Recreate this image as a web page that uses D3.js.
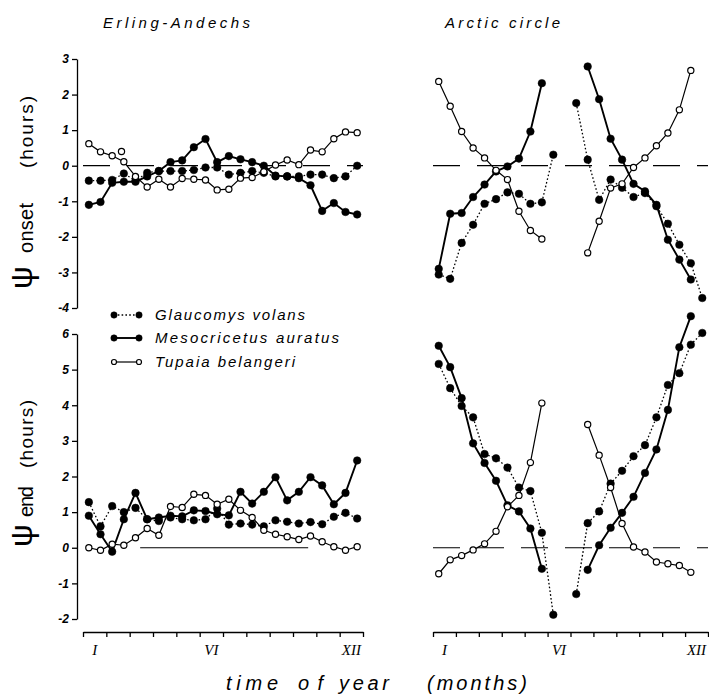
<!DOCTYPE html>
<html><head><meta charset="utf-8">
<script src="https://cdn.jsdelivr.net/npm/d3@7"></script>
<style>body{margin:0;background:#fff}svg{display:block}</style>
</head><body>
<svg id="c" width="709" height="697"></svg>
<script>
// ---- data (semi-monthly samples, 24 per year; null = no value) ----
const monthLabels = ["I", "VI", "XII"];
const monthLabelMonths = [0, 5, 11];
const onsetTicks = [3, 2, 1, 0, -1, -2, -3, -4];
const endTicks = [6, 5, 4, 3, 2, 1, 0, -1, -2];
const seriesNames = ["Glaucomys volans", "Mesocricetus auratus", "Tupaia belangeri"];

const erlingOnsetGlaucomys = [-0.42,-0.42,-0.4,-0.22,-0.42,-0.2,-0.15,-0.15,-0.15,-0.12,-0.05,-0.05,-0.25,-0.2,-0.15,-0.2,-0.3,-0.3,-0.3,-0.25,-0.25,-0.35,-0.3,0.0];
const erlingOnsetMesocricetus = [-1.1,-1.02,-0.48,-0.45,-0.45,-0.3,-0.15,0.1,0.15,0.52,0.75,0.1,0.27,0.18,0.1,0.0,-0.28,-0.3,-0.35,-0.55,-1.27,-1.05,-1.3,-1.37];
const erlingOnsetTupaia = [0.62,0.39,0.28,0.11,-0.3,-0.6,-0.38,-0.6,-0.36,-0.38,-0.4,-0.68,-0.66,-0.35,-0.33,-0.17,0.02,0.16,0.03,0.44,0.39,0.76,0.95,0.93];
const erlingOnsetTupaiaExtra = [{i: 2.8, v: 0.4}];

const arcticOnsetGlaucomys = [-3.06,-3.18,-2.17,-1.66,-1.07,-0.94,-0.75,-0.79,-1.07,-1.03,0.31,null,1.76,0.17,-0.96,-0.39,-0.62,-0.88,-0.77,-1.14,-1.63,-2.22,-2.74,-3.72];
const arcticOnsetMesocricetus = [-2.9,-1.35,-1.33,-0.88,-0.53,-0.16,-0.02,0.2,0.96,2.32,null,null,null,2.79,1.87,0.76,0.17,-0.51,-0.72,-1.1,-2.08,-2.64,-3.2,null];
const arcticOnsetTupaia = [2.37,1.67,0.96,0.5,0.22,-0.13,-0.39,-1.28,-1.82,-2.06,null,null,null,-2.45,-1.56,-0.63,-0.51,-0.05,0.22,0.56,0.92,1.57,2.68,null];

const erlingEndGlaucomys = [1.28,0.6,1.17,1.0,1.12,0.8,0.75,0.85,0.8,0.77,0.8,1.1,0.65,0.68,0.65,0.6,0.77,0.73,0.68,0.72,0.66,0.87,0.98,0.82];
const erlingEndMesocricetus = [0.9,0.38,-0.11,0.8,1.54,0.8,0.85,0.9,0.88,1.05,1.03,0.94,0.91,1.57,1.24,1.57,1.98,1.33,1.57,1.98,1.75,1.22,1.54,2.45];
const erlingEndTupaia = [0,-0.07,0.1,0.07,0.28,0.54,0.35,1.16,1.13,1.5,1.47,1.22,1.36,1.05,0.85,0.49,0.38,0.31,0.23,0.33,0.17,0.03,-0.07,0.03];

const arcticEndGlaucomys = [5.16,4.48,3.98,3.66,2.63,2.51,2.25,1.69,1.59,0.42,-1.88,null,-1.3,0.69,1.02,1.8,2.16,2.57,2.88,3.66,4.57,4.9,5.7,6.03];
const arcticEndMesocricetus = [5.67,5.07,4.2,2.93,2.38,1.88,1.19,1.02,0.54,-0.59,null,null,null,-0.62,0.07,0.56,0.98,1.43,2.1,2.76,3.87,5.63,6.5,null];
const arcticEndTupaia = [-0.73,-0.34,-0.22,-0.06,0.11,0.46,1.15,1.47,2.39,4.06,null,null,null,3.46,2.6,1.69,0.68,0.02,-0.12,-0.4,-0.45,-0.5,-0.69,null];

// ---- layout ----
const svg = d3.select("#c");
const xLeft = d3.scaleLinear().domain([0, 12]).range([83, 363]);
const xRight = d3.scaleLinear().domain([0, 12]).range([433, 708]);
const yTop = d3.scaleLinear().domain([-4, 3]).range([308, 59]);
const yBot = d3.scaleLinear().domain([-2, 6]).range([619, 334]);
const monthOf = i => i * 0.5 + 0.25;
const FONT = "'Liberation Sans', Arial, sans-serif";

const styles = [
  {kind: "filled", width: 1.3, dash: "1.6,2.2", r: 3.8},
  {kind: "filled", width: 1.9, dash: null, r: 3.8},
  {kind: "open", width: 1.2, dash: null, r: 3.1}
];

const panels = [
  {x: xLeft, y: yTop, data: [erlingOnsetGlaucomys, erlingOnsetMesocricetus, erlingOnsetTupaia], zero: "dash", extra: erlingOnsetTupaiaExtra},
  {x: xRight, y: yTop, data: [arcticOnsetGlaucomys, arcticOnsetMesocricetus, arcticOnsetTupaia], zero: "dash"},
  {x: xLeft, y: yBot, data: [erlingEndGlaucomys, erlingEndMesocricetus, erlingEndTupaia], zero: "part"},
  {x: xRight, y: yBot, data: [arcticEndGlaucomys, arcticEndMesocricetus, arcticEndTupaia], zero: "dash"}
];

panels.forEach(p => {
  const g = svg.append("g");
  if (p.zero === "dash") {
    g.append("line").attr("x1", p.x(0)).attr("x2", p.x(12)).attr("y1", p.y(0)).attr("y2", p.y(0))
      .attr("stroke", "#000").attr("stroke-width", 1.2).attr("stroke-dasharray", "27,17");
  } else {
    g.append("line").attr("x1", p.x(2.45)).attr("x2", p.x(9.65)).attr("y1", p.y(0)).attr("y2", p.y(0))
      .attr("stroke", "#000").attr("stroke-width", 1.2);
  }
  const line = d3.line().defined(d => d.v != null).x(d => p.x(monthOf(d.i))).y(d => p.y(d.v));
  const rows = p.data.map(arr => arr.map((v, i) => ({i, v})));
  rows.forEach((row, s) => {
    const st = styles[s];
    g.append("path").attr("d", line(row)).attr("fill", "none").attr("stroke", "#000")
      .attr("stroke-width", st.width).attr("stroke-dasharray", st.dash);
  });
  rows.forEach((row, s) => {
    const st = styles[s];
    g.selectAll(null).data(row.filter(d => d.v != null)).enter().append("circle")
      .attr("cx", d => p.x(monthOf(d.i))).attr("cy", d => p.y(d.v)).attr("r", st.r)
      .attr("fill", st.kind === "filled" ? "#000" : "#fff")
      .attr("stroke", "#000").attr("stroke-width", st.kind === "filled" ? 0.5 : 1.2);
  });
  if (p.extra) {
    g.selectAll(null).data(p.extra).enter().append("circle")
      .attr("cx", d => p.x(monthOf(d.i))).attr("cy", d => p.y(d.v)).attr("r", styles[2].r)
      .attr("fill", "#fff").attr("stroke", "#000").attr("stroke-width", 1.2);
  }
});

// ---- axes ----
function styleAxis(g) {
  g.selectAll("path,line").attr("stroke", "#000").attr("stroke-width", 1.3);
  g.selectAll("text").attr("font-family", FONT).attr("font-style", "italic")
    .attr("font-size", 12).attr("font-weight", "bold").attr("fill", "#000");
}
svg.append("g").attr("transform", "translate(77,0)")
  .call(d3.axisLeft(yTop).tickValues(onsetTicks).tickSize(5).tickSizeOuter(0).tickPadding(3).tickFormat(d => String(d)))
  .call(styleAxis);
svg.append("g").attr("transform", "translate(77,0)")
  .call(d3.axisLeft(yBot).tickValues(endTicks).tickSize(5).tickSizeOuter(0).tickPadding(3).tickFormat(d => String(d)))
  .call(styleAxis);

[xLeft, xRight].forEach(x => {
  svg.append("g").attr("transform", "translate(0,632)")
    .call(d3.axisBottom(x).tickValues(d3.range(0, 13)).tickSize(5).tickSizeOuter(0).tickFormat(""))
    .call(styleAxis);
  svg.selectAll(null).data(monthLabels).enter().append("text")
    .attr("x", (d, k) => x(monthLabelMonths[k] + 0.5)).attr("y", 655)
    .attr("text-anchor", "middle").attr("font-family", "'Liberation Serif', serif")
    .attr("font-style", "italic").attr("font-size", 15).attr("fill", "#000").text(d => d);
});

// ---- titles and labels ----
function label(txt, x, y, size, len, opts = {}) {
  const t = svg.append("text").attr("x", x).attr("y", y).attr("font-family", FONT)
    .attr("font-size", size).attr("font-style", opts.upright ? "normal" : "italic").attr("fill", "#000").text(txt);
  if (len) t.attr("textLength", len).attr("lengthAdjust", "spacing");
  if (opts.rotate) t.attr("transform", `rotate(-90,${x},${y})`);
  return t;
}
label("Erling-Andechs", 103, 28, 15, 147);
label("Arctic circle", 445, 28, 15, 115);
label("time", 226, 690, 20, 52);
label("of", 298, 690, 20, 25);
label("year", 339, 690, 20, 50);
label("(months)", 427, 690, 20, 100);

// y-axis titles (rotated)
label("ψ", 32, 289, 32, null, {upright: true, rotate: true});
label("onset", 33, 253, 20, 50, {upright: true, rotate: true});
label("(hours)", 33, 168, 19, 72, {upright: true, rotate: true});
label("ψ", 32, 547, 32, null, {upright: true, rotate: true});
label("end", 33, 517, 20, 31, {upright: true, rotate: true});
label("(hours)", 33, 468, 19, 68, {upright: true, rotate: true});

// ---- legend ----
const legendY = [315, 338, 362];
const legendLens = [150, 184, 140];
seriesNames.forEach((name, s) => {
  const st = styles[s];
  const y = legendY[s];
  svg.append("line").attr("x1", 114).attr("x2", 139).attr("y1", y).attr("y2", y)
    .attr("stroke", "#000").attr("stroke-width", st.width).attr("stroke-dasharray", st.dash);
  [114, 139].forEach(cx => svg.append("circle").attr("cx", cx).attr("cy", y).attr("r", st.r - 0.6)
    .attr("fill", st.kind === "filled" ? "#000" : "#fff").attr("stroke", "#000").attr("stroke-width", st.kind === "filled" ? 0.5 : 1.2));
  label(name, 155, y + 5, 15, legendLens[s]);
});
</script>
</body></html>
